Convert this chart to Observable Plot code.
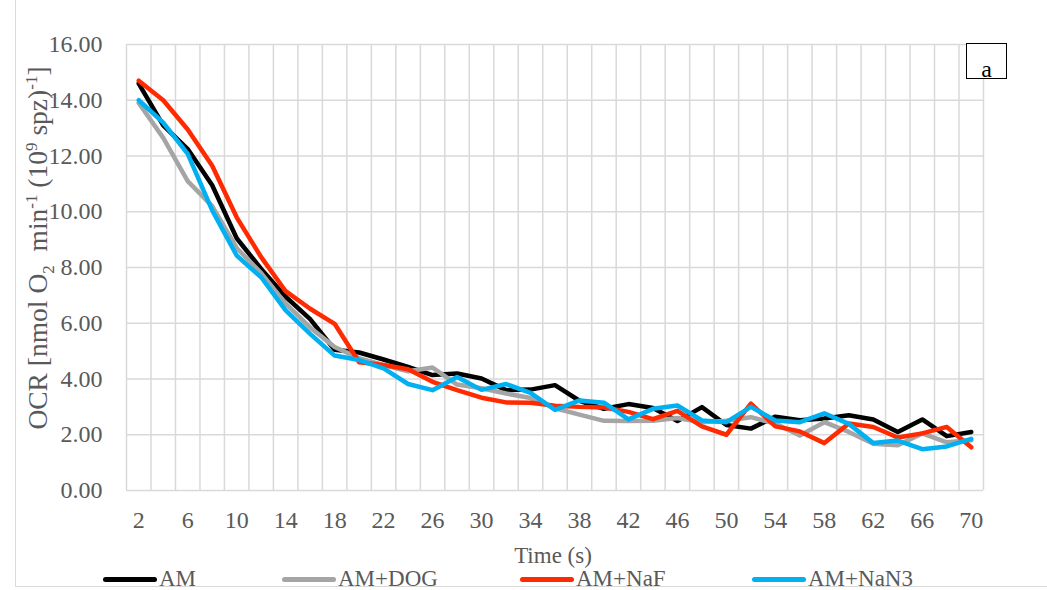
<!DOCTYPE html>
<html>
<head>
<meta charset="utf-8">
<script src="https://cdn.jsdelivr.net/npm/d3@7"></script>
<script src="https://cdn.jsdelivr.net/npm/@observablehq/plot@0.6"></script>
<style>
  html, body { margin: 0; padding: 0; background: #fff; }
  #wrap { position: relative; width: 1047px; height: 590px; overflow: hidden; font-family: "Liberation Serif", "Times New Roman", serif; color: #595959; }
  #chart { position: absolute; left: 0; top: 0; }
  #frame { position: absolute; left: 15px; top: -5px; width: 1100px; height: 592px; border-left: 1px solid #d9d9d9; border-bottom: 1.5px solid #d9d9d9; box-sizing: border-box; pointer-events: none; }
  #ylab { position: absolute; left: 38px; top: 248px; transform: translate(-50%, -50%) rotate(-90deg); white-space: nowrap; font-size: 27.5px; }
  #ylab sub, #ylab sup { font-size: 0.62em; line-height: 0; }
  #xlab { position: absolute; left: 553px; top: 556px; transform: translate(-50%, -50%); font-size: 23px; white-space: nowrap; }
  #legend { position: absolute; top: 566px; left: 0; width: 1047px; height: 30px; }
  .li { position: absolute; top: 0; display: flex; align-items: center; font-size: 23px; white-space: nowrap; }
  .sw { display: inline-block; width: 54px; height: 5px; border-radius: 3px; margin-right: 2px; }
  #abox { position: absolute; left: 966px; top: 43px; width: 41px; height: 36px; border: 1.5px solid #000; box-sizing: border-box; background: #fff; font-size: 24px; color: #000; text-align: center; line-height: 50px; }
</style>
</head>
<body>
<div id="wrap">
  <div id="chart"></div>
  <div id="ylab">OCR [nmol O<sub>2</sub>&nbsp; min<sup>-1</sup> (10<sup>9</sup> spz)<sup>-1</sup>]</div>
  <div id="xlab">Time (s)</div>
  <div id="abox">a</div>
  <div id="legend"></div>
  <div id="frame"></div>
</div>
<script>
// Categories (time, s)
const time = [2,4,6,8,10,12,14,16,18,20,22,24,26,28,30,32,34,36,38,40,42,44,46,48,50,52,54,56,58,60,62,64,66,68,70];
const timeTicks = [2,6,10,14,18,22,26,30,34,38,42,46,50,54,58,62,66,70];
const yTicks = [0,2,4,6,8,10,12,14,16];

// Series values (OCR)
const AM      = [14.6,13.1,12.25,10.95,9.05,7.95,6.95,6.15,5.05,4.95,4.7,4.43,4.14,4.2,4.02,3.6,3.62,3.78,3.22,2.93,3.1,2.96,2.49,2.99,2.35,2.22,2.65,2.52,2.58,2.7,2.55,2.1,2.55,1.95,2.1];
const AM_DOG  = [13.9,12.65,11.1,10.2,8.7,7.8,6.7,5.85,5.15,4.75,4.5,4.28,4.41,3.8,3.67,3.48,3.32,2.95,2.72,2.5,2.49,2.5,2.6,2.45,2.5,2.63,2.4,1.97,2.45,2.1,1.68,1.62,2.05,1.73,1.8];
const AM_NaF  = [14.7,14.0,12.95,11.65,9.8,8.37,7.15,6.52,5.98,4.6,4.5,4.35,3.9,3.6,3.33,3.16,3.15,3.04,3.0,2.98,2.82,2.56,2.86,2.3,2.0,3.12,2.3,2.12,1.7,2.4,2.28,1.9,2.05,2.28,1.55];
const AM_NaN3 = [14.0,13.2,12.08,10.05,8.43,7.65,6.46,5.62,4.84,4.68,4.38,3.82,3.6,4.07,3.61,3.82,3.5,2.89,3.23,3.15,2.55,2.93,3.05,2.51,2.45,3.0,2.51,2.45,2.77,2.39,1.7,1.79,1.48,1.58,1.85];

const seriesNames  = ["AM", "AM+DOG", "AM+NaF", "AM+NaN3"];
const seriesValues = [AM, AM_DOG, AM_NaF, AM_NaN3];
const seriesColors = ["#000000", "#a5a5a5", "#ff2a00", "#00b0f0"];

// category boundaries for vertical gridlines
const boundaries = [time[0] - 1, ...time.map(t => t + 1)];

const rows = seriesNames.flatMap((name, si) =>
  time.map((t, i) => ({series: name, time: t, value: seriesValues[si][i]})));

const chart = Plot.plot({
  width: 1047,
  height: 540,
  marginLeft: 126,
  marginRight: 64,
  marginTop: 44,
  marginBottom: 50,
  style: {fontFamily: "'Liberation Serif', 'Times New Roman', serif", fontSize: "24px", color: "#595959", background: "transparent", overflow: "visible"},
  x: {type: "linear", domain: [1, 71]},
  y: {domain: [0, 16]},
  color: {domain: seriesNames, range: seriesColors},
  marks: [
    Plot.ruleX(boundaries, {stroke: "#d9d9d9", strokeWidth: 1.5}),
    Plot.ruleY(yTicks, {stroke: "#d9d9d9", strokeWidth: 1.5}),
    Plot.axisY({ticks: yTicks, tickFormat: d => d.toFixed(2), tickSize: 0, tickPadding: 24, label: null, fill: "#595959"}),
    Plot.axisX({ticks: timeTicks, tickFormat: d => String(d), tickSize: 0, tickPadding: 20, label: null, fill: "#595959"}),
    Plot.line(rows, {x: "time", y: "value", z: "series", stroke: "series", strokeWidth: 4.5, strokeLinejoin: "round", strokeLinecap: "round"})
  ]
});
document.getElementById("chart").appendChild(chart);

// Legend
const legendX = [103, 282, 520, 752];
const legend = document.getElementById("legend");
seriesNames.forEach((name, i) => {
  const item = document.createElement("div");
  item.className = "li";
  item.style.left = legendX[i] + "px";
  const sw = document.createElement("span");
  sw.className = "sw";
  sw.style.background = seriesColors[i];
  const tx = document.createElement("span");
  tx.textContent = name;
  item.appendChild(sw);
  item.appendChild(tx);
  legend.appendChild(item);
});
</script>
</body>
</html>
